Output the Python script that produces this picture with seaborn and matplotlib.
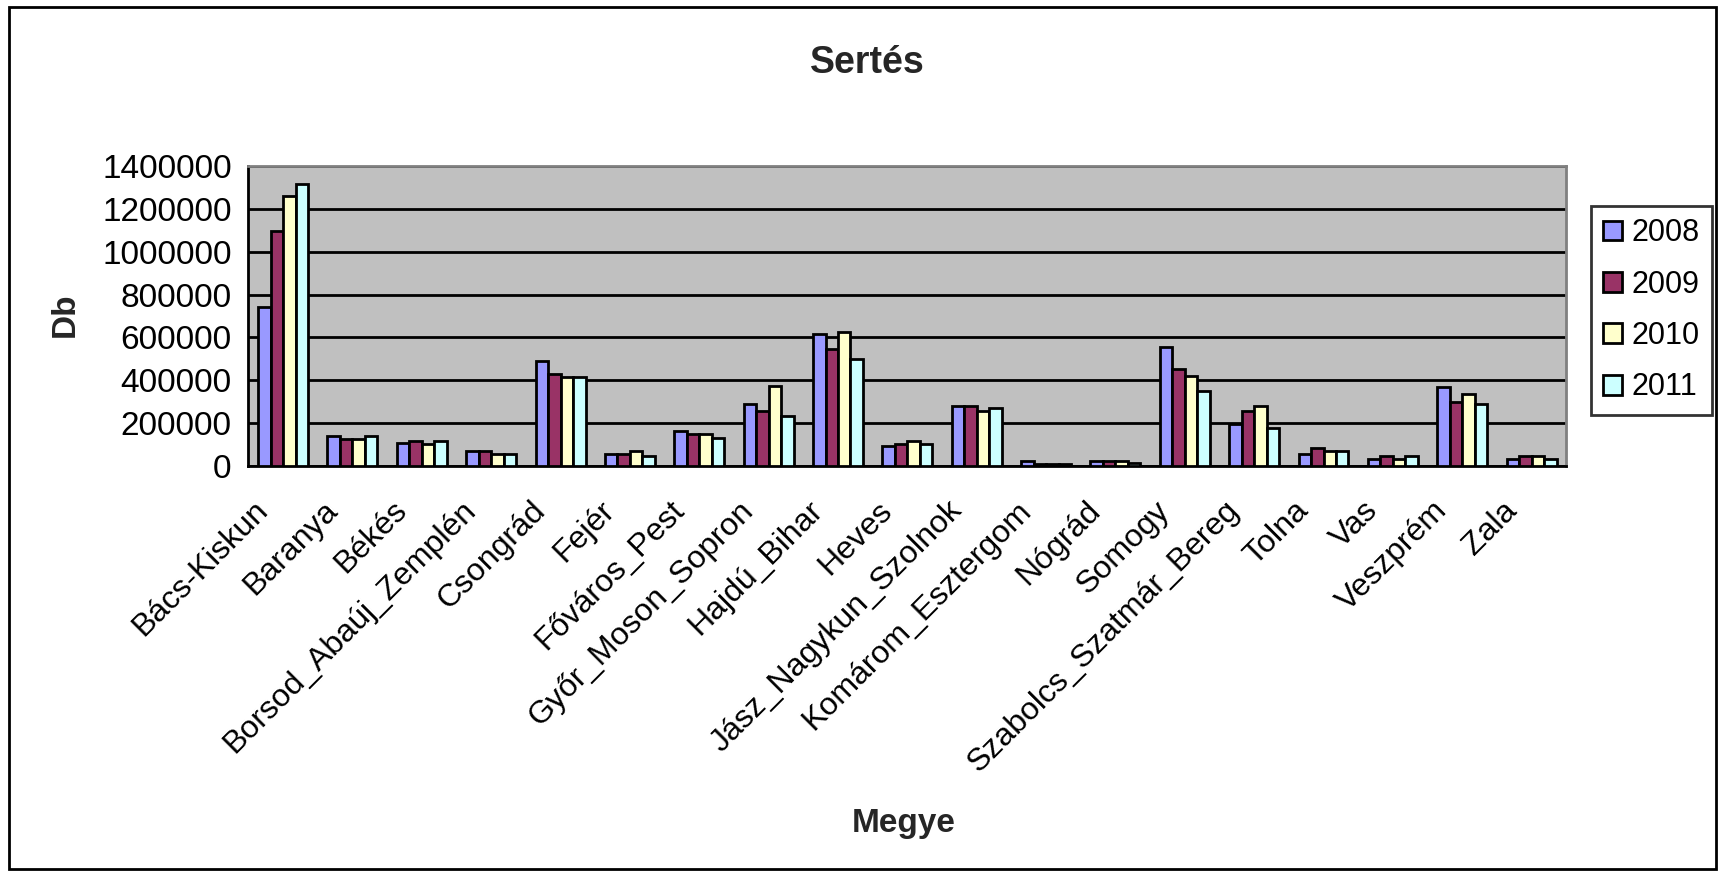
import matplotlib
matplotlib.use("Agg")
import matplotlib.pyplot as plt
import matplotlib.transforms as mtransforms
import seaborn as sns
import pandas as pd
import numpy as np
from matplotlib.patches import Rectangle

megyek = ["Bács-Kiskun", "Baranya", "Békés", "Borsod_Abaúj_Zemplén", "Csongrád",
          "Fejér", "Főváros_Pest", "Győr_Moson_Sopron", "Hajdú_Bihar", "Heves",
          "Jász_Nagykun_Szolnok", "Komárom_Esztergom", "Nógrád", "Somogy",
          "Szabolcs_Szatmár_Bereg", "Tolna", "Vas", "Veszprém", "Zala"]
evek = ["2008", "2009", "2010", "2011"]

db_2008 = [741000, 140000, 105000, 70000, 490000, 57000, 163000, 291000, 614000, 92000,
           278000, 22000, 22000, 557000, 195000, 56000, 33000, 369000, 33000]
db_2009 = [1099000, 127000, 117000, 70000, 428000, 57000, 149000, 257000, 544000, 103000,
           278000, 9000, 22000, 454000, 257000, 81000, 46000, 300000, 46000]
db_2010 = [1260000, 127000, 102000, 54000, 417000, 70000, 149000, 372000, 626000, 116000,
           257000, 9000, 22000, 419000, 279000, 67000, 32000, 334000, 46000]
db_2011 = [1318000, 140000, 117000, 54000, 417000, 46000, 129000, 233000, 499000, 102000,
           270000, 9000, 11000, 349000, 176000, 67000, 46000, 288000, 33000]

szinek = ["#9999FF", "#993366", "#FFFFCC", "#CCFFFF"]

df = pd.DataFrame({
    "Megye": megyek * 4,
    "Év": sum([[e] * len(megyek) for e in evek], []),
    "Db": db_2008 + db_2009 + db_2010 + db_2011,
})

sns.set_style("white")
plt.rcParams["font.family"] = ["Liberation Sans", "DejaVu Sans"]

fig = plt.figure(figsize=(17.25, 8.74), dpi=100)
ax = fig.add_axes([0.144, 0.467, 0.764, 0.343])

sns.barplot(data=df, x="Megye", y="Db", hue="Év", palette=szinek, width=0.72,
            edgecolor="black", linewidth=2, saturation=1, ax=ax, zorder=3)

ax.set_facecolor("#C0C0C0")
ax.set_ylim(0, 1400000)
ax.set_xlim(-0.5, len(megyek) - 0.5)
ax.set_yticks(np.arange(0, 1400001, 200000))
ax.set_yticklabels([str(v) for v in range(0, 1400001, 200000)], fontsize=24, color="black")
ax.yaxis.grid(True, color="black", linewidth=2, zorder=0)
ax.set_axisbelow(True)

# tick marks between the categories, labels at the centers
ax.set_xticks(np.arange(len(megyek)))
ax.set_xticklabels(megyek, rotation=45, ha="right", va="top", rotation_mode="anchor",
                   fontsize=23, color="black")
ax.set_xticks(np.arange(-0.5, len(megyek)), minor=True)
ax.tick_params(axis="x", which="major", length=0, pad=14)
ax.tick_params(axis="x", which="minor", length=8, width=2, color="black", direction="out")
ax.tick_params(axis="y", length=8, width=2, color="black", direction="out", pad=4)

# excel puts the rotated labels a bit left of the category centre
shift = mtransforms.ScaledTranslation(-0.3, -0.1, fig.dpi_scale_trans)
for lab in ax.get_xticklabels():
    lab.set_transform(lab.get_transform() + shift)

for side in ["left", "bottom"]:
    ax.spines[side].set_color("black")
    ax.spines[side].set_linewidth(2)
for side in ["top", "right"]:
    ax.spines[side].set_color("#808080")
    ax.spines[side].set_linewidth(2)

ax.set_xlabel("")
ax.set_ylabel("")
fig.text(0.524, 0.058, "Megye", fontsize=24, fontweight="bold", ha="center", va="center")
fig.text(0.038, 0.64, "Db", fontsize=24, fontweight="bold", rotation=90,
         ha="center", va="center")
fig.text(0.503, 0.928, "Sertés", fontsize=27, fontweight="bold", ha="center", va="center")

leg = ax.legend(loc="upper left", bbox_to_anchor=(1591 / 1725, 1 - 206 / 874),
                bbox_transform=fig.transFigure, fontsize=22,
                frameon=True, fancybox=False, edgecolor="black", borderpad=0.4,
                borderaxespad=0, handlelength=0.62, handleheight=0.62,
                labelspacing=0.7, handletextpad=0.32)
leg.get_frame().set_linewidth(2)
for h in leg.legend_handles:
    h.set_edgecolor("black")
    h.set_linewidth(2)
for t in leg.get_texts():
    t.set_color("black")

# outer chart border
fig.patches.append(Rectangle((0.005, 0.006), 0.99, 0.986, transform=fig.transFigure,
                             fill=False, edgecolor="black", linewidth=2))

fig.savefig("out.png", dpi=100)
